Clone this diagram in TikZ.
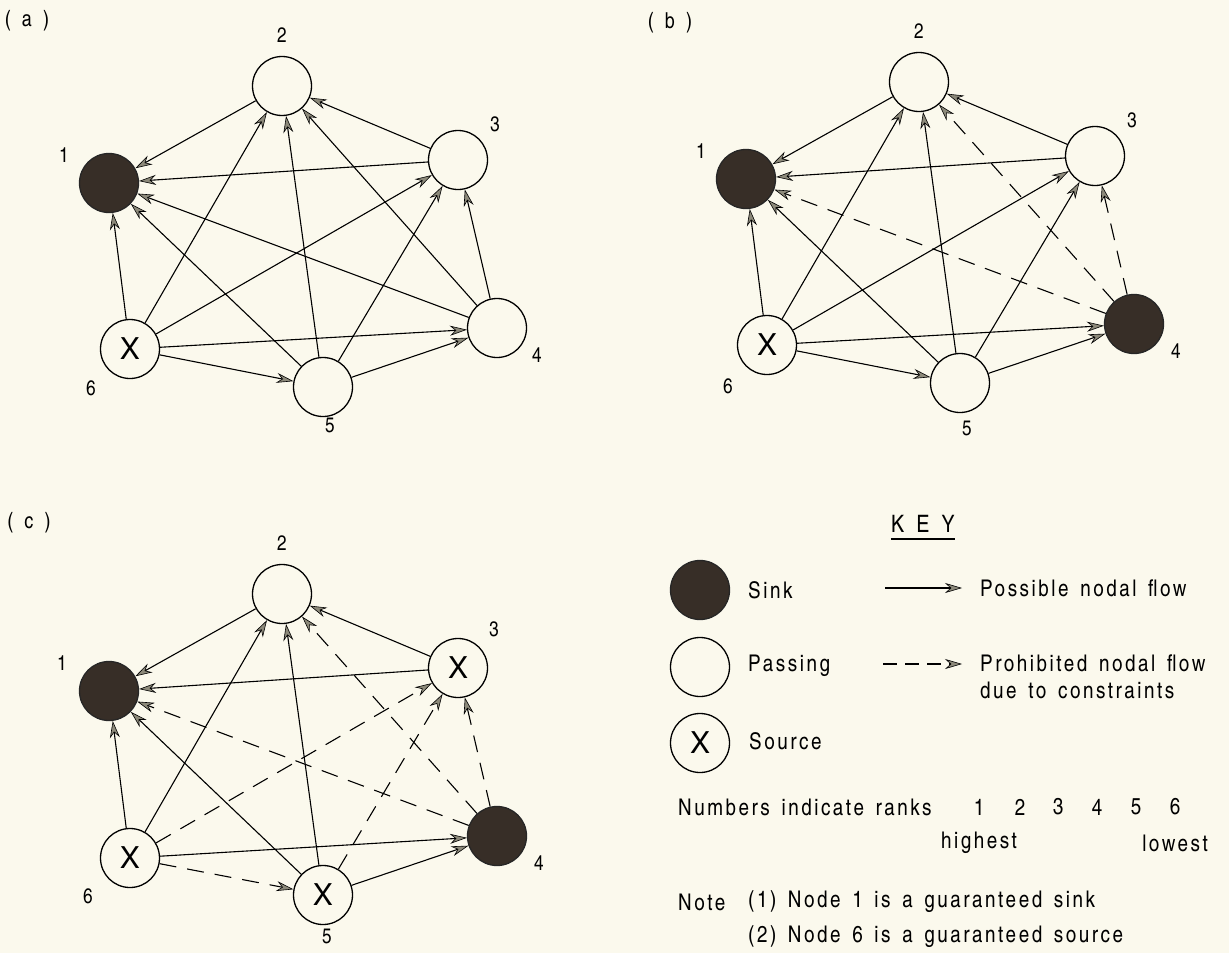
\documentclass[tikz,border=0pt]{standalone}
\usepackage{fontspec}
\setmainfont{texgyreheroscn-regular.otf}[LetterSpace=11, WordSpace=1.5]
\newfontfamily\xfont{TeX Gyre Heros}
\usetikzlibrary{arrows.meta}
\definecolor{bg}{RGB}{251,249,237}
\definecolor{sinkc}{RGB}{55,46,39}
\definecolor{tipc}{RGB}{140,137,122}
\begin{document}
\begin{tikzpicture}[x=1pt,y=-1pt,
  nd/.style={circle, draw, line width=1.3pt, fill=bg, inner sep=0pt, minimum size=59pt},
  sink/.style={nd, fill=sinkc, draw=black!85},
  src/.style={nd, font=\xfont\fontsize{30}{30}\selectfont},
  lbl/.style={font=\fontsize{21}{23}\selectfont, inner sep=0pt},
  plbl/.style={font=\fontsize{22}{24}\selectfont, inner sep=0pt},
  keytxt/.style={font=\fontsize{23}{25}\selectfont, inner sep=0pt, anchor=west},
  flow/.style={line width=1.1pt, -{Stealth[length=17pt,width=10pt,inset=5.5pt,fill=tipc,line width=0.6pt]}},
  noflow/.style={flow, dash pattern=on 17pt off 11pt}]
\fill[bg] (0,0) rectangle (1229,953);
\useasboundingbox (0,0) rectangle (1229,953);

% ---------- panel (a)
\node[plbl] (pa) at (27,21) {( a )};
\node[nd] (a2) at (282,86) {};
\node[sink] (a1) at (109,183) {};
\node[nd] (a3) at (458,160) {};
\node[nd] (a4) at (497,328) {};
\node[nd] (a5) at (323,387) {};
\node[src] (a6) at (130,349) {X};
\node[lbl] (la2) at (282,35) {2};
\node[lbl] (la1) at (64,155) {1};
\node[lbl] (la3) at (495,124) {3};
\node[lbl] (la4) at (537,355) {4};
\node[lbl] (la5) at (330,425) {5};
\node[lbl] (la6) at (91,388) {6};
\foreach \s/\t in {2/1,3/1,4/1,5/1,6/1,3/2,4/2,5/2,6/2,4/3,5/3,6/3,5/4,6/4,6/5}
  \draw[flow] (a\s) -- (a\t);

% ---------- panel (b)
\node[plbl] (pb) at (670,23) {( b )};
\begin{scope}[shift={(637,-4)}]
\node[nd] (b2) at (282,86) {};
\node[sink] (b1) at (109,183) {};
\node[nd] (b3) at (458,160) {};
\node[sink] (b4) at (497,328) {};
\node[nd] (b5) at (323,387) {};
\node[src] (b6) at (130,349) {X};
\node[lbl] (lb2) at (282,35) {2};
\node[lbl] (lb1) at (64,155) {1};
\node[lbl] (lb3) at (495,124) {3};
\node[lbl] (lb4) at (539,355) {4};
\node[lbl] (lb5) at (330,432) {5};
\node[lbl] (lb6) at (91,390) {6};
\end{scope}
\foreach \s/\t in {2/1,3/1,5/1,6/1,3/2,5/2,6/2,5/3,6/3,5/4,6/4,6/5}
  \draw[flow] (b\s) -- (b\t);
\foreach \s/\t in {4/1,4/2,4/3}
  \draw[noflow] (b\s) -- (b\t);

% ---------- panel (c)
\node[plbl] (pc) at (29,523) {( c )};
\begin{scope}[shift={(0,508)}]
\node[nd] (c2) at (282,86) {};
\node[sink] (c1) at (109,183) {};
\node[src] (c3) at (458,160) {X};
\node[sink] (c4) at (497,328) {};
\node[src] (c5) at (323,387) {X};
\node[src] (c6) at (130,350) {X};
\node[lbl] (lc2) at (282,35) {2};
\node[lbl] (lc1) at (62,155) {1};
\node[lbl] (lc3) at (494,121) {3};
\node[lbl] (lc4) at (539,355) {4};
\node[lbl] (lc5) at (327,428) {5};
\node[lbl] (lc6) at (88,388) {6};
\end{scope}
\foreach \s/\t in {2/1,3/1,5/1,6/1,3/2,5/2,6/2,5/4,6/4}
  \draw[flow] (c\s) -- (c\t);
\foreach \s/\t in {4/1,4/2,4/3,6/3,5/3,6/5}
  \draw[noflow] (c\s) -- (c\t);

% ---------- key
\node[font=\fontsize{24}{26}\selectfont, inner sep=0pt] (key) at (923,524) {K E Y};
\draw[line width=1.8pt] ([yshift=-6pt]key.south west) -- ([yshift=-6pt]key.south east);
\node[sink] (ks) at (700,590) {};
\node[nd] (kp) at (700,667) {};
\node[src] (kx) at (700,743) {X};
\node[keytxt] (tsink) at (748,590) {Sink};
\node[keytxt] (tpass) at (748,666) {Passing};
\node[keytxt] (tsrc) at (749,741) {Source};
\coordinate (f1a) at (885,588);
\coordinate (f1b) at (962,588);
\coordinate (f2a) at (883,664);
\coordinate (f2b) at (962,664);
\draw[flow] (f1a) -- (f1b);
\draw[noflow, dash pattern=on 14pt off 8pt] (f2a) -- (f2b);
\node[keytxt] (tpos) at (980,588) {Possible nodal flow};
\node[keytxt] (tpro) at (980,663) {Prohibited nodal flow};
\node[keytxt] (tdue) at (980,690) {due to constraints};
\node[keytxt] (tnum) at (678,807) {Numbers indicate ranks};
\foreach \d/\x in {1/979,2/1020,3/1058,4/1097,5/1136,6/1175}
  \node[keytxt, anchor=center] (r\d) at (\x,807) {\d};
\node[keytxt, anchor=center] (thi) at (979,843) {highest};
\node[keytxt, anchor=center] (tlo) at (1175,843) {lowest};
\node[keytxt] (tnote) at (678,902) {Note};
\node[keytxt] (tn1) at (748,902) {(1) Node 1 is a guaranteed sink};
\node[keytxt] (tn2) at (748,937) {(2) Node 6 is a guaranteed source};
\end{tikzpicture}
\end{document}
